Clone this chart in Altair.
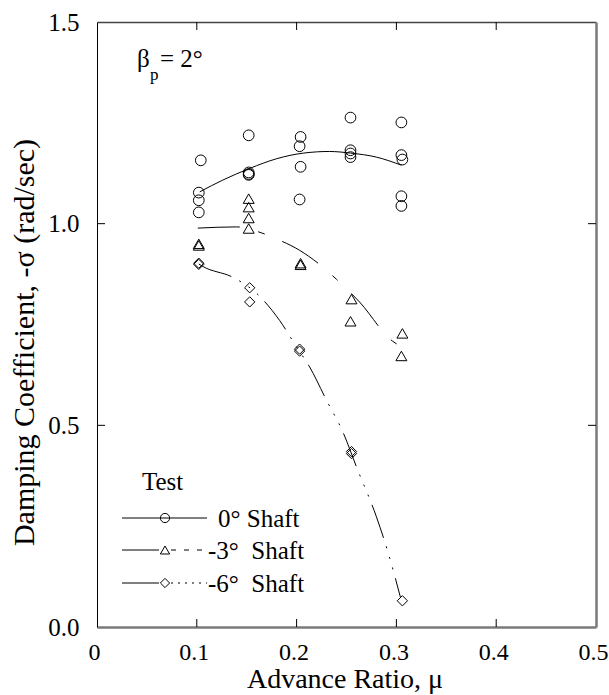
import altair as alt
import pandas as pd

FONT = "Liberation Serif"

# ---------------- data ----------------
# 0 deg shaft test points
mu_0 = [0.104, 0.102, 0.102, 0.102,
        0.152, 0.152, 0.152, 0.152,
        0.204, 0.203, 0.204, 0.203,
        0.254, 0.254, 0.254, 0.254,
        0.305, 0.305, 0.306, 0.305, 0.305]
sig_0 = [1.157, 1.077, 1.058, 1.028,
         1.219, 1.127, 1.123, 1.121,
         1.215, 1.192, 1.141, 1.060,
         1.263, 1.182, 1.174, 1.165,
         1.251, 1.170, 1.159, 1.068, 1.044]
# -3 deg shaft test points
mu_3 = [0.102, 0.102, 0.152, 0.152, 0.152, 0.152, 0.204, 0.204,
        0.255, 0.254, 0.306, 0.305]
sig_3 = [0.950, 0.946, 1.062, 1.041, 1.014, 0.988, 0.902, 0.898,
         0.813, 0.758, 0.728, 0.672]
# -6 deg shaft test points
mu_6 = [0.102, 0.102, 0.153, 0.153, 0.203, 0.203, 0.255, 0.255, 0.306]
sig_6 = [0.902, 0.899, 0.841, 0.806, 0.689, 0.684, 0.435, 0.430, 0.065]

# fitted curves
fit_mu_0 = [0.103, 0.126, 0.153, 0.180, 0.207, 0.233, 0.254, 0.280, 0.305]
fit_sig_0 = [1.079, 1.108, 1.137, 1.161, 1.175, 1.179, 1.175, 1.165, 1.145]
fit_mu_3 = [0.101, 0.140, 0.165, 0.183, 0.203, 0.222, 0.240, 0.263, 0.296, 0.305]
fit_sig_3 = [0.989, 0.992, 0.977, 0.959, 0.934, 0.901, 0.862, 0.806, 0.709, 0.695]
fit_mu_6 = [0.102, 0.106, 0.137, 0.160, 0.183, 0.200, 0.213, 0.230, 0.247,
            0.260, 0.280, 0.292, 0.304]
fit_sig_6 = [0.900, 0.894, 0.866, 0.827, 0.760, 0.694, 0.645, 0.562, 0.480,
             0.397, 0.273, 0.182, 0.074]

x_ticks = [0, 0.1, 0.2, 0.3, 0.4, 0.5]
x_inner_ticks = [0.1, 0.2, 0.3, 0.4]
y_ticks = [0.0, 0.5, 1.0, 1.5]
y_inner_ticks = [0.5, 1.0]
legend_title = "Test"
legend_labels = ["0°\u00a0Shaft", "-3°\u00a0\u00a0Shaft", "-6°\u00a0\u00a0Shaft"]

W, H = 499, 605

xs = alt.Scale(domain=[0, 0.5], nice=False, zero=False)
ys = alt.Scale(domain=[0, 1.5], nice=False, zero=False)


def pts(mu, sig):
    return pd.DataFrame({"mu": mu, "sigma": sig})


X = lambda **kw: alt.X("mu:Q", scale=xs, **kw)
Y = lambda **kw: alt.Y("sigma:Q", scale=ys, **kw)

# ---------------- data layers ----------------
base_axes = alt.Chart(pts(mu_0, sig_0)).mark_point(
    shape="circle", size=115, filled=False, color="black", strokeWidth=1, opacity=1
).encode(
    x=X(axis=alt.Axis(values=x_ticks, format="~g", title="Advance Ratio, μ",
                      orient="bottom", grid=False, ticks=False,
                      domainColor="#7a7a7a", domainWidth=2.5,
                      labelFont=FONT, labelFontSize=24, labelColor="black",
                      labelPadding=13, labelFlush=False, labelOffset=-3,
                      titleFont=FONT, titleFontSize=28, titleFontWeight="normal",
                      titleColor="black", titleBaseline="alphabetic",
                      titleX=W / 2 - 2, titleY=60)),
    y=Y(axis=alt.Axis(values=y_ticks, format=".1f",
                      title="Damping Coefficient, -σ (rad/sec)",
                      orient="left", grid=False, ticks=False,
                      domainColor="black", domainWidth=1,
                      labelFont=FONT, labelFontSize=25, labelColor="black",
                      labelPadding=18, labelFlush=False,
                      titleFont=FONT, titleFontSize=30, titleFontWeight="normal",
                      titleColor="black", titleBaseline="alphabetic",
                      titleAngle=270, titleX=-64, titleY=320)),
)

pts_3 = alt.Chart(pts(mu_3, sig_3)).mark_point(
    shape="triangle-up", size=120, filled=False, color="black", strokeWidth=1, opacity=1
).encode(x=X(axis=None), y=Y(axis=None))

pts_6 = alt.Chart(pts(mu_6, sig_6)).mark_point(
    shape="diamond", size=105, filled=False, color="black", strokeWidth=1, opacity=1
).encode(x=X(axis=None), y=Y(axis=None))

line_0 = alt.Chart(pts(fit_mu_0, fit_sig_0)).mark_line(
    color="black", strokeWidth=1, interpolate="monotone"
).encode(x=X(axis=None), y=Y(axis=None))

line_3 = alt.Chart(pts(fit_mu_3, fit_sig_3)).mark_line(
    color="black", strokeWidth=1, interpolate="monotone", strokeDash=[42, 19, 7, 19]
).encode(x=X(axis=None), y=Y(axis=None))

line_6 = alt.Chart(pts(fit_mu_6, fit_sig_6)).mark_line(
    color="black", strokeWidth=1, interpolate="monotone",
    strokeDash=[35, 9, 2, 9, 2, 9, 2, 9]
).encode(x=X(axis=None), y=Y(axis=None))

# ---------------- frame: top / right axes and inward ticks ----------------
xt = pd.DataFrame({"mu": x_inner_ticks})
yt = pd.DataFrame({"sigma": y_inner_ticks})

top_axis = alt.Chart(xt).mark_rule(color="black", strokeWidth=1).encode(
    x=X(axis=alt.Axis(orient="top", labels=False, ticks=False, title=None,
                      grid=False, domainColor="#444444", domainWidth=1.5)),
    y=alt.value(0), y2=alt.value(8))
bottom_ticks = alt.Chart(xt).mark_rule(color="black", strokeWidth=1).encode(
    x=X(axis=None), y=alt.value(H), y2=alt.value(H - 8))
right_axis = alt.Chart(yt).mark_rule(color="black", strokeWidth=1).encode(
    y=Y(axis=alt.Axis(orient="right", labels=False, ticks=False, title=None,
                      grid=False, domainColor="#7a7a7a", domainWidth=2.5)),
    x=alt.value(W), x2=alt.value(W - 8))
left_ticks = alt.Chart(yt).mark_rule(color="black", strokeWidth=1).encode(
    y=Y(axis=None), x=alt.value(0), x2=alt.value(8))

# ---------------- annotation: beta_p = 2 deg ----------------
one = pd.DataFrame({"k": [0]})
txt = dict(font=FONT, color="black", align="left", baseline="alphabetic")
beta = alt.Chart(one).mark_text(fontSize=25, **txt).encode(
    x=alt.value(40), y=alt.value(45), text=alt.value("β"))
beta_sub = alt.Chart(one).mark_text(fontSize=17, **txt).encode(
    x=alt.value(53), y=alt.value(58), text=alt.value("p"))
beta_val = alt.Chart(one).mark_text(fontSize=25, **txt).encode(
    x=alt.value(63), y=alt.value(45), text=alt.value("= 2°"))

# ---------------- legend ----------------
leg_layers = []
leg_layers.append(alt.Chart(one).mark_text(fontSize=25, **txt).encode(
    x=alt.value(45), y=alt.value(468), text=alt.value(legend_title)))
rows_y = [496, 528, 561]
rows_txt_x = [121, 111, 111]
shapes = ["circle", "triangle-up", "diamond"]
dashes = [None, [5, 8], [2, 5]]
for i in range(3):
    yy = rows_y[i]
    leg_layers.append(alt.Chart(one).mark_rule(color="black", strokeWidth=1).encode(
        x=alt.value(25), x2=alt.value(62 if i else 110), y=alt.value(yy)))
    if dashes[i]:
        leg_layers.append(alt.Chart(one).mark_rule(
            color="black", strokeWidth=1, strokeDash=dashes[i]).encode(
            x=alt.value(74), x2=alt.value(110), y=alt.value(yy)))
    leg_layers.append(alt.Chart(one).mark_point(
        shape=shapes[i], size=85, filled=False, color="black", strokeWidth=1,
        opacity=1).encode(x=alt.value(68), y=alt.value(yy)))
    leg_layers.append(alt.Chart(one).mark_text(fontSize=25, **txt).encode(
        x=alt.value(rows_txt_x[i]), y=alt.value(yy + 9),
        text=alt.value(legend_labels[i])))

chart = alt.layer(
    base_axes, pts_3, pts_6, line_0, line_3, line_6,
    top_axis, bottom_ticks, right_axis, left_ticks,
    beta, beta_sub, beta_val, *leg_layers
).properties(
    width=W, height=H,
    autosize=alt.AutoSizeParams(type="none"),
    padding={"left": 97, "top": 22, "right": 13, "bottom": 68},
    background="white",
).configure_view(stroke=None)

chart.save("out.html", embed_options={"renderer": "svg", "actions": False})
